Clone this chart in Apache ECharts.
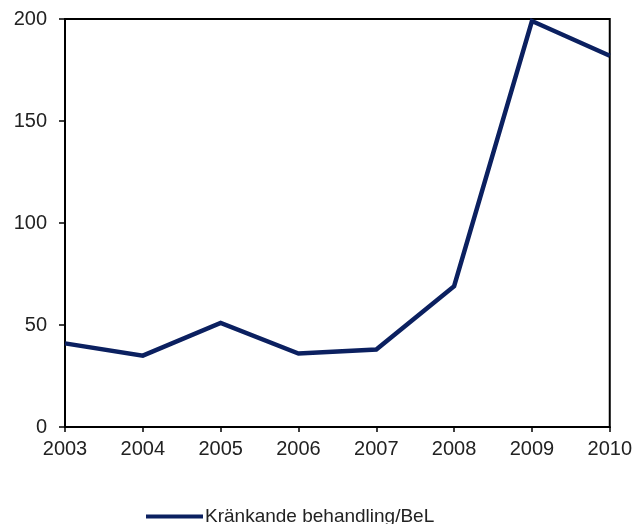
<!DOCTYPE html>
<html><head><meta charset="utf-8">
<script src="https://cdn.jsdelivr.net/npm/echarts@6/dist/echarts.min.js"></script>
<style>html,body{margin:0;padding:0;background:#fff}#c{width:635px;height:524px}</style>
</head><body><div id="c"></div>
<script>
const years = ['2003','2004','2005','2006','2007','2008','2009','2010'];
const values = [41, 35, 51, 36, 38, 69, 199, 182];
const seriesName = 'Kränkande behandling/BeL';
const chart = echarts.init(document.getElementById('c'));
const font = 'Liberation Sans, Arial, sans-serif';
chart.setOption({
  animation: false,
  grid: {left: 65, right: 25, top: 19, bottom: 97, show: true, borderColor: '#000', borderWidth: 2, backgroundColor: 'transparent'},
  xAxis: {
    type: 'category', data: years, boundaryGap: false,
    axisLine: {lineStyle: {color: '#000', width: 2}},
    axisTick: {show: true, length: 5, lineStyle: {color: '#000', width: 1.5}},
    axisLabel: {color: '#222', fontSize: 20, fontFamily: font, margin: 12},
    splitLine: {show: false}
  },
  yAxis: {
    type: 'value', min: 0, max: 200, interval: 50,
    axisLine: {show: true, lineStyle: {color: '#000', width: 2}},
    axisTick: {show: true, length: 6, lineStyle: {color: '#000', width: 1.5}},
    axisLabel: {color: '#222', fontSize: 20, fontFamily: font, margin: 18},
    splitLine: {show: false}
  },
  legend: {
    left: 141, top: 502, icon: 'rect', itemWidth: 57, itemHeight: 4, itemGap: 6,
    textStyle: {color: '#222', fontSize: 19, fontFamily: font, padding: [0,0,0,-3]},
    data: [seriesName]
  },
  series: [{
    name: seriesName, type: 'line', data: values, showSymbol: false, symbol: 'none',
    lineStyle: {color: '#0b2060', width: 4.5, join: 'miter'}, itemStyle: {color: '#0b2060'}
  }]
});
</script></body></html>
